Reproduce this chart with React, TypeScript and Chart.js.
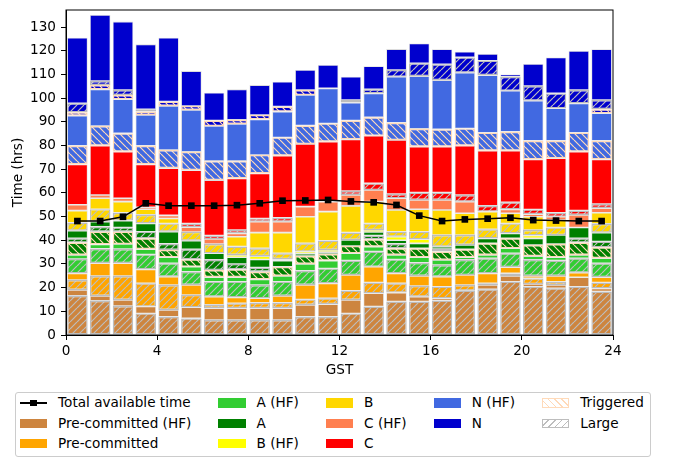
import React, { useEffect, useRef } from "react";
import { Chart, registerables } from "chart.js";

Chart.register(...registerables);

// ---- Data (hours GST, values in hrs) ----
const hours = [0.5, 1.5, 2.5, 3.5, 4.5, 5.5, 6.5, 7.5, 8.5, 9.5, 10.5, 11.5, 12.5, 13.5, 14.5, 15.5, 16.5, 17.5, 18.5, 19.5, 20.5, 21.5, 22.5, 23.5];
const totalAvailable = [48.1, 48.1, 49.9, 55.6, 54.6, 54.6, 54.6, 54.8, 55.6, 56.7, 56.8, 57.0, 56.4, 56.0, 54.9, 50.4, 48.1, 48.8, 49.1, 49.5, 48.5, 48.3, 48.1, 48.1];

const preHFLarge = [16.5, 14.4, 12.2, 9.1, 7.7, 7.0, 6.3, 6.3, 6.3, 6.3, 7.7, 7.7, 9.1, 12.0, 14.1, 14.1, 14.5, 18.7, 19.3, 22.5, 20.4, 19.7, 20.4, 18.3];
const preHF = [2.5, 2.1, 2.6, 2.9, 2.9, 4.7, 5.0, 5.0, 5.0, 5.0, 5.0, 5.3, 5.7, 5.6, 3.8, 2.1, 1.0, 0, 1.8, 2.4, 1.1, 1.4, 4.0, 1.4];
const preLarge = [4.2, 8.4, 10.1, 9.8, 10.5, 5.2, 1.4, 2.1, 2.3, 2.3, 2.3, 2.5, 3.9, 4.5, 3.9, 4.5, 4.9, 2.4, 0.7, 1.1, 2.4, 1.4, 0, 2.4];
const pre = [2.8, 5.4, 5.4, 5.9, 3.5, 4.2, 3.5, 2.5, 1.9, 2.9, 6.1, 6.3, 6.6, 6.7, 4.2, 4.2, 4.2, 4.2, 4.2, 2.6, 1.0, 2.4, 1.9, 2.3];
const aHFLarge = [6.1, 6.1, 6.0, 6.3, 5.7, 5.6, 6.3, 6.6, 5.6, 6.0, 6.0, 6.3, 6.1, 6.4, 5.9, 5.6, 4.9, 6.4, 6.4, 5.9, 6.8, 6.5, 6.1, 5.9];
const aHF = [1.7, 1.8, 2.1, 2.2, 2.5, 2.1, 1.9, 1.9, 2.4, 2.4, 2.9, 3.3, 3.1, 2.1, 1.9, 2.3, 2.2, 1.1, 1.4, 2.1, 1.6, 1.4, 1.4, 2.1];
const aTriggered = [5.2, 5.4, 5.2, 4.6, 3.1, 3.1, 3.0, 3.3, 3.2, 3.9, 3.3, 2.8, 3.1, 3.1, 2.8, 3.8, 3.5, 3.4, 4.9, 4.2, 4.7, 5.6, 5.2, 4.6];
const aLarge = [1.8, 2.1, 1.8, 2.8, 2.6, 4.3, 4.3, 2.3, 1.8, 0, 0, 0, 0, 1.6, 1.9, 0, 1.1, 0, 0, 0, 0, 0, 1.8, 2.4];
const aPlain = [3.2, 2.1, 2.9, 3.5, 5.1, 3.6, 2.8, 2.8, 3.4, 2.6, 1.0, 0.8, 2.5, 1.5, 1.5, 2.1, 1.0, 1.8, 2.1, 2.1, 2.8, 3.8, 4.6, 3.8];
const bHF = [0, 0, 0, 0, 0, 0, 0, 1.0, 1.4, 0.6, 0.9, 0.9, 0, 0.8, 1.5, 1.7, 0, 0, 0, 0, 1.2, 0, 0, 0];
const bLarge = [3.4, 5.3, 3.3, 3.6, 3.5, 3.7, 3.9, 3.5, 3.3, 2.5, 3.5, 3.9, 3.1, 2.8, 2.1, 3.2, 4.9, 4.2, 3.8, 4.2, 2.3, 3.2, 0, 3.7];
const bPlain = [5.1, 4.6, 4.7, 2.4, 2.1, 0, 0, 4.2, 6.6, 8.7, 11.2, 12.3, 11.3, 9.2, 9.2, 9.5, 10.6, 9.2, 7.5, 4.3, 5.6, 3.1, 0, 4.7];
const cHF = [2.5, 1.4, 1.4, 0.8, 1.3, 2.0, 2.1, 1.4, 4.6, 4.6, 4.3, 4.2, 4.6, 4.9, 4.9, 3.9, 4.2, 4.9, 0, 1.6, 1.1, 1.4, 5.3, 1.9];
const cLarge = [0, 0, 0, 0, 0, 1.5, 1.5, 1.4, 1.4, 1.7, 0, 0, 1.7, 2.8, 1.8, 3.1, 3.1, 2.8, 2.4, 3.0, 2.0, 1.7, 1.8, 1.8];
const cPlain = [17.0, 20.8, 19.7, 18.1, 19.9, 22.6, 23.4, 21.8, 19.0, 26.2, 26.4, 25.3, 21.8, 20.1, 22.8, 19.4, 19.4, 20.8, 23.3, 21.8, 21.1, 23.0, 24.9, 18.8];
const nHFTriggered = [7.9, 8.3, 7.7, 7.9, 7.7, 7.7, 8.0, 7.3, 7.8, 7.7, 7.8, 7.7, 7.9, 7.8, 7.3, 7.5, 7.3, 7.3, 7.6, 8.0, 7.9, 7.4, 8.0, 7.9];
const nHF = [12.7, 15.5, 14.4, 13.0, 18.6, 17.7, 14.8, 15.7, 15.0, 10.9, 12.9, 14.8, 7.6, 10.1, 19.4, 22.3, 20.8, 23.5, 24.3, 17.3, 16.9, 13.7, 12.4, 11.6];
const nTriggered = [1.4, 1.8, 1.8, 1.4, 1.8, 1.7, 2.3, 1.7, 1.9, 2.1, 2.1, 0, 0, 0, 0, 0, 0, 0, 0, 0, 0, 0, 0, 1.7];
const nLarge = [3.8, 1.7, 2.1, 1.0, 0, 0, 0, 0, 0, 0, 0, 0, 1.1, 1.7, 2.9, 5.4, 6.7, 6.5, 6.1, 5.9, 6.2, 6.3, 5.6, 3.9];
const nPlain = [27.7, 27.9, 28.9, 27.4, 27.0, 14.7, 11.8, 12.9, 12.6, 10.5, 8.5, 9.9, 9.8, 9.8, 8.8, 8.4, 6.3, 2.4, 2.8, 1.0, 9.3, 15.2, 16.5, 21.4];

const legendColumns = [
  ["Total available time", "Pre-committed (HF)", "Pre-committed"],
  ["A (HF)", "A", "B (HF)"],
  ["B", "C (HF)", "C"],
  ["N (HF)", "N"],
  ["Triggered", "Large"],
];

// ---- Styles ----
const COL: Record<string, string> = {
  "Pre-committed (HF)": "#cd853f",
  "Pre-committed": "#ffa500",
  "A (HF)": "#32cd32",
  A: "#008000",
  "B (HF)": "#ffff00",
  B: "#ffd700",
  "C (HF)": "#ff7f50",
  C: "#ff0000",
  "N (HF)": "#4169e1",
  N: "#0000cd",
};
const TRIG = "#ffdab9";
const LARGE = "#bdbdbd";
const FONT = "DejaVu Sans";
const FS = 13.6;

type Kind = "plain" | "large" | "trig";
const series: { data: number[]; cat: string; kind: Kind }[] = [
  { data: preHFLarge, cat: "Pre-committed (HF)", kind: "large" },
  { data: preHF, cat: "Pre-committed (HF)", kind: "plain" },
  { data: preLarge, cat: "Pre-committed", kind: "large" },
  { data: pre, cat: "Pre-committed", kind: "plain" },
  { data: aHFLarge, cat: "A (HF)", kind: "large" },
  { data: aHF, cat: "A (HF)", kind: "plain" },
  { data: aTriggered, cat: "A", kind: "trig" },
  { data: aLarge, cat: "A", kind: "large" },
  { data: aPlain, cat: "A", kind: "plain" },
  { data: bHF, cat: "B (HF)", kind: "plain" },
  { data: bLarge, cat: "B", kind: "large" },
  { data: bPlain, cat: "B", kind: "plain" },
  { data: cHF, cat: "C (HF)", kind: "plain" },
  { data: cLarge, cat: "C", kind: "large" },
  { data: cPlain, cat: "C", kind: "plain" },
  { data: nHFTriggered, cat: "N (HF)", kind: "trig" },
  { data: nHF, cat: "N (HF)", kind: "plain" },
  { data: nTriggered, cat: "N", kind: "trig" },
  { data: nLarge, cat: "N", kind: "large" },
  { data: nPlain, cat: "N", kind: "plain" },
];

function makeHatch(ctx: CanvasRenderingContext2D, bg: string, line: string, dir: "/" | "\\") {
  const s = 7;
  const c = document.createElement("canvas");
  c.width = s;
  c.height = s;
  const g = c.getContext("2d")!;
  g.fillStyle = bg;
  g.fillRect(0, 0, s, s);
  g.strokeStyle = line;
  g.lineWidth = 1.2;
  g.beginPath();
  for (const k of [-1, 0, 1]) {
    if (dir === "/") {
      g.moveTo(k * s, s);
      g.lineTo(k * s + s, 0);
    } else {
      g.moveTo(k * s, 0);
      g.lineTo(k * s + s, s);
    }
  }
  g.stroke();
  return ctx.createPattern(c, "repeat")!;
}

const framePlugin = {
  id: "frame",
  afterDatasetsDraw(chart: any) {
    const { ctx, chartArea } = chart;
    ctx.save();
    ctx.strokeStyle = "#000";
    ctx.lineWidth = 1;
    ctx.strokeRect(chartArea.left, chartArea.top, chartArea.right - chartArea.left, chartArea.bottom - chartArea.top);
    ctx.restore();
  },
};

function Handle({ label }: { label: string }) {
  const base: React.CSSProperties = { width: 27.2, height: 9.5, boxSizing: "border-box", flex: "0 0 auto" };
  if (label === "Total available time") {
    return (
      <div style={{ width: 27.2, height: 9.5, position: "relative", flex: "0 0 auto" }}>
        <div style={{ position: "absolute", left: 0, right: 0, top: 4, height: 1.5, background: "#000" }} />
        <div style={{ position: "absolute", left: 10.3, top: 1.4, width: 6.7, height: 6.7, background: "#000" }} />
      </div>
    );
  }
  if (label === "Triggered") {
    return (
      <div
        style={{
          ...base,
          border: `1.3px solid ${TRIG}`,
          background: `repeating-linear-gradient(45deg, #fff 0px, #fff 3.6px, ${TRIG} 3.6px, ${TRIG} 4.9px)`,
        }}
      />
    );
  }
  if (label === "Large") {
    return (
      <div
        style={{
          ...base,
          border: `1.3px solid ${LARGE}`,
          background: `repeating-linear-gradient(-45deg, #fff 0px, #fff 3.6px, ${LARGE} 3.6px, ${LARGE} 4.9px)`,
        }}
      />
    );
  }
  return <div style={{ ...base, background: COL[label] }} />;
}

export default function App() {
  const ref = useRef<HTMLCanvasElement>(null);

  useEffect(() => {
    const canvas = ref.current!;
    const ctx = canvas.getContext("2d")!;
    const datasets: any[] = series.map((s) => {
      const color = COL[s.cat];
      let bg: any = color;
      let border = "#dcdcdc";
      let bw = 0.8;
      if (s.kind === "large") {
        bg = makeHatch(ctx, color, LARGE, "/");
        border = LARGE;
        bw = 1.4;
      } else if (s.kind === "trig") {
        bg = makeHatch(ctx, color, TRIG, "\\");
        border = TRIG;
        bw = 1.4;
      }
      return {
        type: "bar",
        label: s.cat + " " + s.kind,
        data: hours.map((x, i) => ({ x, y: s.data[i] === 0 ? null : s.data[i] })),
        backgroundColor: bg,
        borderColor: border,
        borderWidth: bw,
        borderSkipped: false,
        stack: "bars",
        order: 1,
        barPercentage: 0.9,
        categoryPercentage: 1,
      };
    });
    datasets.push({
      type: "line",
      label: "Total available time",
      data: hours.map((x, i) => ({ x, y: totalAvailable[i] })),
      borderColor: "#000",
      backgroundColor: "#000",
      borderWidth: 1.5,
      pointStyle: "rect",
      pointRadius: 4.7,
      pointBorderWidth: 0,
      pointBackgroundColor: "#000",
      fill: false,
      tension: 0,
      stack: "avail",
      order: 0,
    });

    const tickFont = { family: FONT, size: FS };
    const chart = new Chart(canvas, {
      type: "bar",
      data: { datasets },
      options: {
        animation: false,
        responsive: true,
        maintainAspectRatio: false,
        layout: { padding: { top: 10, right: 60, left: 0, bottom: 0 } },
        plugins: { legend: { display: false }, tooltip: { enabled: false } },
        scales: {
          x: {
            type: "linear",
            min: 0,
            max: 24,
            offset: false,
            stacked: true,
            grid: { display: true, drawOnChartArea: false, drawTicks: true, tickLength: 5, color: "#000", tickColor: "#000", offset: false },
            border: { display: true, color: "#000", width: 1 },
            ticks: { stepSize: 4, color: "#000", font: tickFont, padding: 3, maxRotation: 0, includeBounds: false },
            title: { display: true, text: "GST", color: "#000", font: tickFont, padding: { top: 0, bottom: 6 } },
            afterFit: (s: any) => {
              s.height = 50;
              s.paddingLeft = 0;
              s.paddingRight = 0;
            },
          },
          y: {
            type: "linear",
            min: 0,
            max: 137.2,
            stacked: true,
            grid: { display: true, drawOnChartArea: false, drawTicks: true, tickLength: 5, color: "#000", tickColor: "#000" },
            border: { display: true, color: "#000", width: 1 },
            ticks: { stepSize: 10, color: "#000", font: tickFont, padding: 5, includeBounds: false },
            title: { display: true, text: "Time (hrs)", color: "#000", font: tickFont, padding: { top: 10, bottom: 0 } },
            afterFit: (s: any) => {
              s.width = 66;
              s.paddingTop = 0;
              s.paddingBottom = 0;
            },
          },
        },
      } as any,
      plugins: [framePlugin],
    });
    return () => chart.destroy();
  }, []);

  return (
    <div style={{ position: "absolute", left: 0, top: 0, width: 673, height: 466, background: "#fff" }}>
      <div style={{ position: "absolute", left: 0, top: 0, width: 673, height: 385 }}>
        <canvas ref={ref} />
      </div>
      <div
        style={{
          position: "absolute",
          left: 15,
          top: 392,
          border: "1px solid #cccccc",
          borderRadius: 3,
          padding: "0 6px 2px 4px",
          display: "flex",
          columnGap: 27.2,
          fontFamily: FONT,
          fontSize: FS,
          color: "#000",
          background: "#fff",
        }}
      >
        {legendColumns.map((col, ci) => (
          <div key={ci} style={{ display: "flex", flexDirection: "column" }}>
            {col.map((label) => (
              <div key={label} style={{ height: 20.3, display: "flex", alignItems: "center" }}>
                <Handle label={label} />
                <span style={{ marginLeft: 10.9, whiteSpace: "nowrap", lineHeight: 1 }}>{label}</span>
              </div>
            ))}
          </div>
        ))}
      </div>
    </div>
  );
}
